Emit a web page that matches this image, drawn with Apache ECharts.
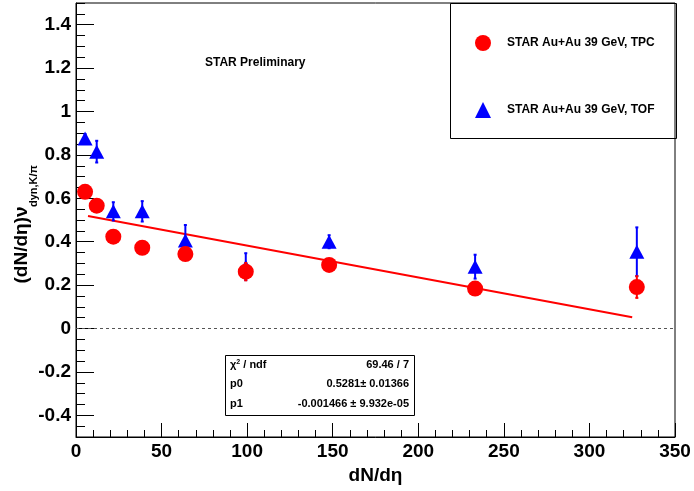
<!DOCTYPE html>
<html>
<head>
<meta charset="utf-8">
<script src="https://cdn.jsdelivr.net/npm/echarts@6/dist/echarts.min.js"></script>
<style>
  html, body { margin: 0; padding: 0; background: #fff; }
  #main { width: 694px; height: 491px; }
</style>
</head>
<body>
<div id="main"></div>
<script>
// dN/deta of the centrality bins
const dndeta = [5.3, 12.1, 21.8, 38.7, 63.9, 99.2, 147.9, 233.2, 327.7];
// TPC points and errors
const tpcValues = [0.630, 0.566, 0.423, 0.372, 0.343, 0.262, 0.293, 0.184, 0.191];
const tpcErrors = [0.02, 0.02, 0.02, 0.02, 0.02, 0.04, 0.02, 0.02, 0.05];
// TOF points and errors
const tofValues = [0.876, 0.815, 0.540, 0.540, 0.405, 0.285, 0.400, 0.285, 0.354];
const tofErrors = [0.02, 0.05, 0.042, 0.047, 0.072, 0.062, 0.03, 0.055, 0.112];
// fitted line (pol1), end points as drawn
const fitLine = [[7, 0.518], [325, 0.052]];
// axis ticks
const xTicks = [0, 50, 100, 150, 200, 250, 300, 350];
const yTicks = [-0.4, -0.2, 0, 0.2, 0.4, 0.6, 0.8, 1, 1.2, 1.4];
// fit statistics box
const statNames = ['{a|χ}{s|2}{a| / ndf}', 'p0', 'p1'];
const statValues = ['69.46 / 7', '0.5281± 0.01366', '-0.001466 ± 9.932e-05'];

const font = 'Liberation Sans, Arial, Helvetica, sans-serif';
const chart = echarts.init(document.getElementById('main'));

function errBars(values, errors) {
    return dndeta.map((x, i) => [x, values[i] - errors[i], values[i] + errors[i]]);
}

function renderErr(params, api) {
    const lo = api.coord([api.value(0), api.value(1)]);
    const hi = api.coord([api.value(0), api.value(2)]);
    const style = { stroke: api.visual('color'), lineWidth: 2 };
    return {
        type: 'group',
        children: [
            { type: 'line', shape: { x1: lo[0], y1: lo[1], x2: hi[0], y2: hi[1] }, style: style },
            { type: 'line', shape: { x1: lo[0] - 1.5, y1: lo[1], x2: lo[0] + 1.5, y2: lo[1] }, style: style },
            { type: 'line', shape: { x1: hi[0] - 1.5, y1: hi[1], x2: hi[0] + 1.5, y2: hi[1] }, style: style }
        ]
    };
}

const statTexts = [];
statNames.forEach((name, i) => {
    statTexts.push({
        type: 'text', left: 230, top: 359 + i * 19.5,
        style: {
            text: name, font: 'bold 11px ' + font, fill: '#000',
            rich: {
                a: { fontSize: 11, fontWeight: 'bold', fontFamily: font },
                s: { fontSize: 7, fontWeight: 'bold', fontFamily: font, verticalAlign: 'top', padding: [0, 0, 5, 0] }
            }
        }
    });
    statTexts.push({
        type: 'text', right: 694 - 409, top: 359 + i * 19.5,
        style: { text: statValues[i], font: 'bold 11px ' + font, fill: '#000', textAlign: 'right' }
    });
});

const option = {
    backgroundColor: '#fff',
    animation: false,
    grid: {
        left: 76, right: 19, top: 3, bottom: 54,
        show: true, borderColor: '#000', borderWidth: 1
    },
    legend: {
        data: ['STAR Au+Au 39 GeV, TPC', 'STAR Au+Au 39 GeV, TOF'],
        orient: 'vertical',
        left: 470, top: 30,
        itemWidth: 16, itemHeight: 16,
        itemGap: 51,
        textStyle: { fontFamily: font, fontWeight: 'bold', fontSize: 12, color: '#000', padding: [0, 0, 0, 11] }
    },
    xAxis: {
        type: 'value',
        min: 0, max: 350, interval: 50,
        name: 'dN/dη',
        nameLocation: 'middle',
        nameGap: 21,
        nameTextStyle: { fontFamily: font, fontWeight: 'bold', fontSize: 19, color: '#000' },
        axisLine: { show: true, onZero: false, lineStyle: { color: '#000', width: 1 } },
        axisTick: { show: true, inside: true, length: 14, lineStyle: { color: '#000' } },
        minorTick: { show: true, splitNumber: 5, length: 7, lineStyle: { color: '#000' } },
        axisLabel: {
            customValues: xTicks,
            margin: 5,
            fontFamily: font, fontWeight: 'bold', fontSize: 19, color: '#000'
        },
        splitLine: { show: false }
    },
    yAxis: [
        {
            type: 'value',
            min: -0.5, max: 1.5,
            axisLine: { show: true, onZero: false, lineStyle: { color: '#000', width: 1 } },
            axisTick: { show: true, inside: true, length: 18, customValues: yTicks, lineStyle: { color: '#000' } },
            axisLabel: {
                customValues: yTicks,
                margin: 5,
                fontFamily: font, fontWeight: 'bold', fontSize: 19, color: '#000'
            },
            splitLine: { show: false }
        },
        {
            // minor ticks only
            type: 'value',
            min: -0.5, max: 1.5, interval: 0.05,
            position: 'left',
            axisLine: { show: false, onZero: false },
            axisTick: { show: true, inside: true, length: 9, lineStyle: { color: '#000' } },
            axisLabel: { show: false },
            splitLine: { show: false }
        }
    ],
    graphic: [
        {
            type: 'rect', left: 450, top: 3,
            shape: { width: 226, height: 135 },
            style: { fill: '#fff', stroke: '#000', lineWidth: 1 },
            z: -1
        },
        {
            type: 'rect', left: 225, top: 355,
            shape: { width: 189, height: 60 },
            style: { fill: '#fff', stroke: '#000', lineWidth: 1 },
            z: -1
        },
        {
            type: 'text', left: 205, top: 57,
            style: { text: 'STAR Preliminary', font: 'bold 12px ' + font, fill: '#000' }
        },
        {
            type: 'text', x: 22, y: 245, rotation: Math.PI / 2,
            style: {
                text: '(dN/dη)ν', font: 'bold 19px ' + font, fill: '#000',
                align: 'center', verticalAlign: 'middle'
            }
        },
        {
            type: 'text', x: 34, y: 186, rotation: Math.PI / 2,
            style: {
                text: 'dyn,K/π', font: 'bold 11px ' + font, fill: '#000',
                align: 'center', verticalAlign: 'middle'
            }
        }
    ].concat(statTexts),
    series: [
        {
            name: 'zero',
            type: 'line',
            data: [[0, 0], [350, 0]],
            symbol: 'none',
            lineStyle: { color: '#555', width: 1, type: [3, 3] },
            silent: true,
            z: 1
        },
        {
            name: 'fit',
            type: 'line',
            data: fitLine,
            symbol: 'none',
            lineStyle: { color: '#ff0000', width: 2 },
            z: 2
        },
        {
            name: 'tofErr',
            type: 'custom',
            renderItem: renderErr,
            data: errBars(tofValues, tofErrors),
            itemStyle: { color: '#0000ff' },
            encode: { x: 0, y: [1, 2] },
            z: 3
        },
        {
            name: 'STAR Au+Au 39 GeV, TOF',
            type: 'scatter',
            symbol: 'triangle',
            symbolSize: [15, 14],
            data: dndeta.map((x, i) => [x, tofValues[i]]),
            itemStyle: { color: '#0000ff', opacity: 1 },
            z: 4
        },
        {
            name: 'tpcErr',
            type: 'custom',
            renderItem: renderErr,
            data: errBars(tpcValues, tpcErrors),
            itemStyle: { color: '#ff0000' },
            encode: { x: 0, y: [1, 2] },
            z: 5
        },
        {
            name: 'STAR Au+Au 39 GeV, TPC',
            type: 'scatter',
            symbol: 'circle',
            symbolSize: 16,
            data: dndeta.map((x, i) => [x, tpcValues[i]]),
            itemStyle: { color: '#ff0000', opacity: 1 },
            z: 6
        }
    ]
};

chart.setOption(option);
</script>
</body>
</html>
